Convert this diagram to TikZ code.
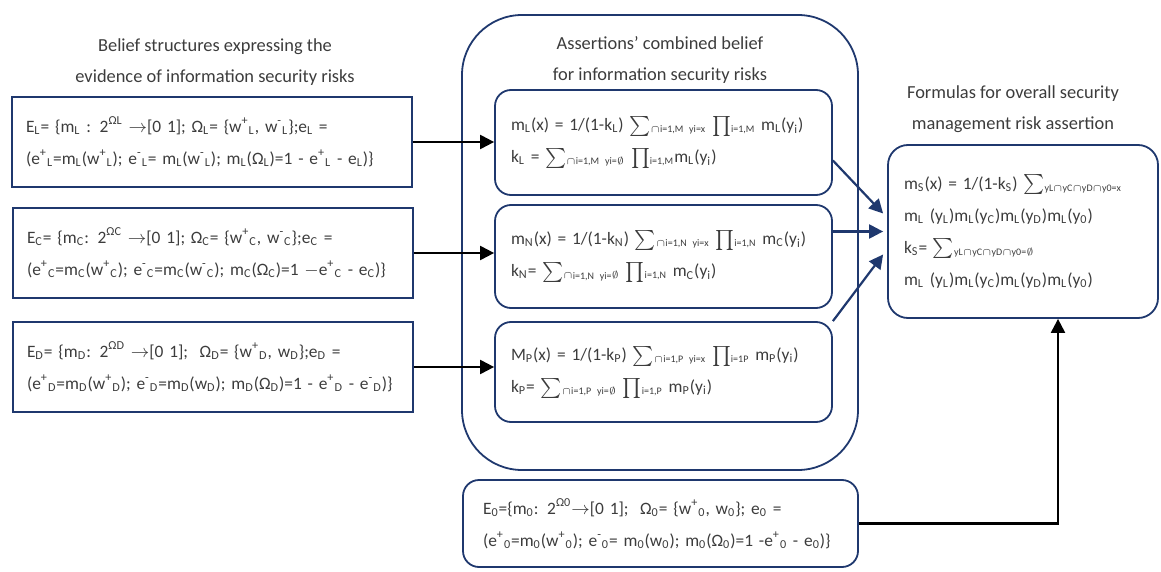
\documentclass[tikz,border=0pt]{standalone}
\usepackage{fontspec}
\setmainfont{Carlito}
\usetikzlibrary{arrows.meta}

\definecolor{boxblue}{RGB}{31,56,110}
\definecolor{txtgray}{RGB}{60,60,60}

\newcommand{\lo}[1]{\textsubscript{#1}}
\newcommand{\hi}[1]{\textsuperscript{#1}}
\newcommand{\Sm}[1]{$\sum$\textsubscript{\tiny #1}}
\newcommand{\Pd}[1]{$\prod$\textsubscript{\tiny #1}}
\newcommand{\ra}{$\rightarrow$}
\newcommand{\ca}{$\cap$}
\newcommand{\es}{$\emptyset$}

\tikzset{
  evbox/.style={draw=boxblue,line width=0.9pt,minimum height=45pt,
    text width=186pt,inner xsep=7pt,align=left,text=txtgray,
    font=\fontsize{8.7}{16}\selectfont},
  rulebox/.style={evbox,rounded corners=8pt},
  heading/.style={align=center,text=txtgray,font=\fontsize{9.2}{15.5}\selectfont},
  feed/.style={-{Triangle[length=7pt,width=7pt]},line width=1.1pt},
  joinarr/.style={feed,draw=boxblue}
}

\begin{document}
\begin{tikzpicture}[x=0.5pt,y=-0.5pt]
  \useasboundingbox (0,0) rectangle (1161,572);

  % evidence
  \node[heading] (evtitle) at (215,62) {Belief structures expressing the\\evidence of information security risks};
  \node[evbox] (evL) at (212,142) {E\lo{L}= \{m\lo{L} : 2\hi{ΩL} \ra[0 1]; Ω\lo{L}= \{w\hi{+}\lo{L}, w\hi{-}\lo{L}\};e\lo{L} =\\(e\hi{+}\lo{L}=m\lo{L}(w\hi{+}\lo{L}); e\hi{-}\lo{L}= m\lo{L}(w\hi{-}\lo{L}); m\lo{L}(Ω\lo{L})=1 - e\hi{+}\lo{L} - e\lo{L})\}};
  \node[evbox] (evC) at (213,253) {E\lo{C}= \{m\lo{C}: 2\hi{ΩC} \ra[0 1]; Ω\lo{C}= \{w\hi{+}\lo{C}, w\hi{-}\lo{C}\};e\lo{C} =\\(e\hi{+}\lo{C}=m\lo{C}(w\hi{+}\lo{C}); e\hi{-}\lo{C}=m\lo{C}(w\hi{-}\lo{C}); m\lo{C}(Ω\lo{C})=1 $-$e\hi{+}\lo{C} - e\lo{C})\}};
  \node[evbox] (evD) at (213,367) {E\lo{D}= \{m\lo{D}: 2\hi{ΩD} \ra[0 1]; \ Ω\lo{D}= \{w\hi{+}\lo{D}, w\lo{D}\};e\lo{D} =\\(e\hi{+}\lo{D}=m\lo{D}(w\hi{+}\lo{D}); e\hi{-}\lo{D}=m\lo{D}(w\lo{D}); m\lo{D}(Ω\lo{D})=1 - e\hi{+}\lo{D} - e\hi{-}\lo{D})\}};

  % combination
  \node[draw=boxblue,line width=0.9pt,rounded corners=30pt,minimum width=198pt,minimum height=227.5pt] (comb) at (660,242.5) {};
  \node[heading] (combtitle) at (660,60) {Assertions’ combined belief\\for information security risks};
  \node[rulebox,text width=152.5pt,inner xsep=8pt,minimum height=52.5pt] (inL) at (663.5,142.5) {m\lo{L}(x) = 1/(1-k\lo{L}) \Sm{\ca i=1,M yi=x} \Pd{i=1,M} m\lo{L}(y\lo{i})\\k\lo{L} = \Sm{\ca i=1,M yi=\es} \Pd{i=1,M}m\lo{L}(y\lo{i})};
  \node[rulebox,text width=152.5pt,inner xsep=8pt,minimum height=51.5pt] (inC) at (663.5,256.5) {m\lo{N}(x) = 1/(1-k\lo{N}) \Sm{\ca i=1,N yi=x} \Pd{i=1,N} m\lo{C}(y\lo{i})\\k\lo{N}= \Sm{\ca i=1,N yi=\es} \Pd{i=1,N} m\lo{C}(y\lo{i})};
  \node[rulebox,text width=152.5pt,inner xsep=8pt,minimum height=50pt] (inD) at (663.5,372) {M\lo{P}(x) = 1/(1-k\lo{P}) \Sm{\ca i=1,P yi=x} \Pd{i=1P} m\lo{P}(y\lo{i})\\k\lo{P}= \Sm{\ca i=1,P yi=\es} \Pd{i=1,P} m\lo{P}(y\lo{i})};

  % overall
  \node[heading] (ovtitle) at (1013,109) {Formulas for overall security\\management risk assertion};
  \node[rulebox,rounded corners=10pt,text width=119pt,inner xsep=8pt,minimum height=86.5pt] (ov) at (1023,231.5) {m\lo{S}(x) = 1/(1-k\lo{S}) \Sm{yL\ca yC\ca yD\ca y0=x}\\m\lo{L} (y\lo{L})m\lo{L}(y\lo{C})m\lo{L}(y\lo{D})m\lo{L}(y\lo{0})\\k\lo{S}= \Sm{yL\ca yC\ca yD\ca y0=\es}\\m\lo{L} (y\lo{L})m\lo{L}(y\lo{C})m\lo{L}(y\lo{D})m\lo{L}(y\lo{0})};

  % extra evidence
  \node[rulebox,text width=177.5pt,inner xsep=10pt,minimum height=43.5pt] (ev0) at (660.5,523.5) {E\lo{0}=\{m\lo{0}: 2\hi{Ω0}\ra[0 1]; \ Ω\lo{0}= \{w\hi{+}\lo{0}, w\lo{0}\}; e\lo{0} =\\(e\hi{+}\lo{0}=m\lo{0}(w\hi{+}\lo{0}); e\hi{-}\lo{0}= m\lo{0}(w\lo{0}); m\lo{0}(Ω\lo{0})=1 -e\hi{+}\lo{0} - e\lo{0})\}};
  \coordinate (turn) at (1058,0);

  \draw[feed] (evL.east) -- (evL.east -| inL.west);
  \draw[feed] (evC.east) -- (evC.east -| inC.west);
  \draw[feed] (evD.east) -- (evD.east -| inD.west);

  \draw[joinarr] ([yshift=-9pt]inL.east) -- ([yshift=9pt,xshift=-2pt]ov.west);
  \draw[joinarr] (ov.west -| inC.east) -- ([xshift=-2pt]ov.west);
  \draw[joinarr] (inD.north east) -- ([yshift=-11.5pt,xshift=-2pt]ov.west);

  \draw[feed] (ev0.east) -| (turn |- ov.south);
\end{tikzpicture}
\end{document}
